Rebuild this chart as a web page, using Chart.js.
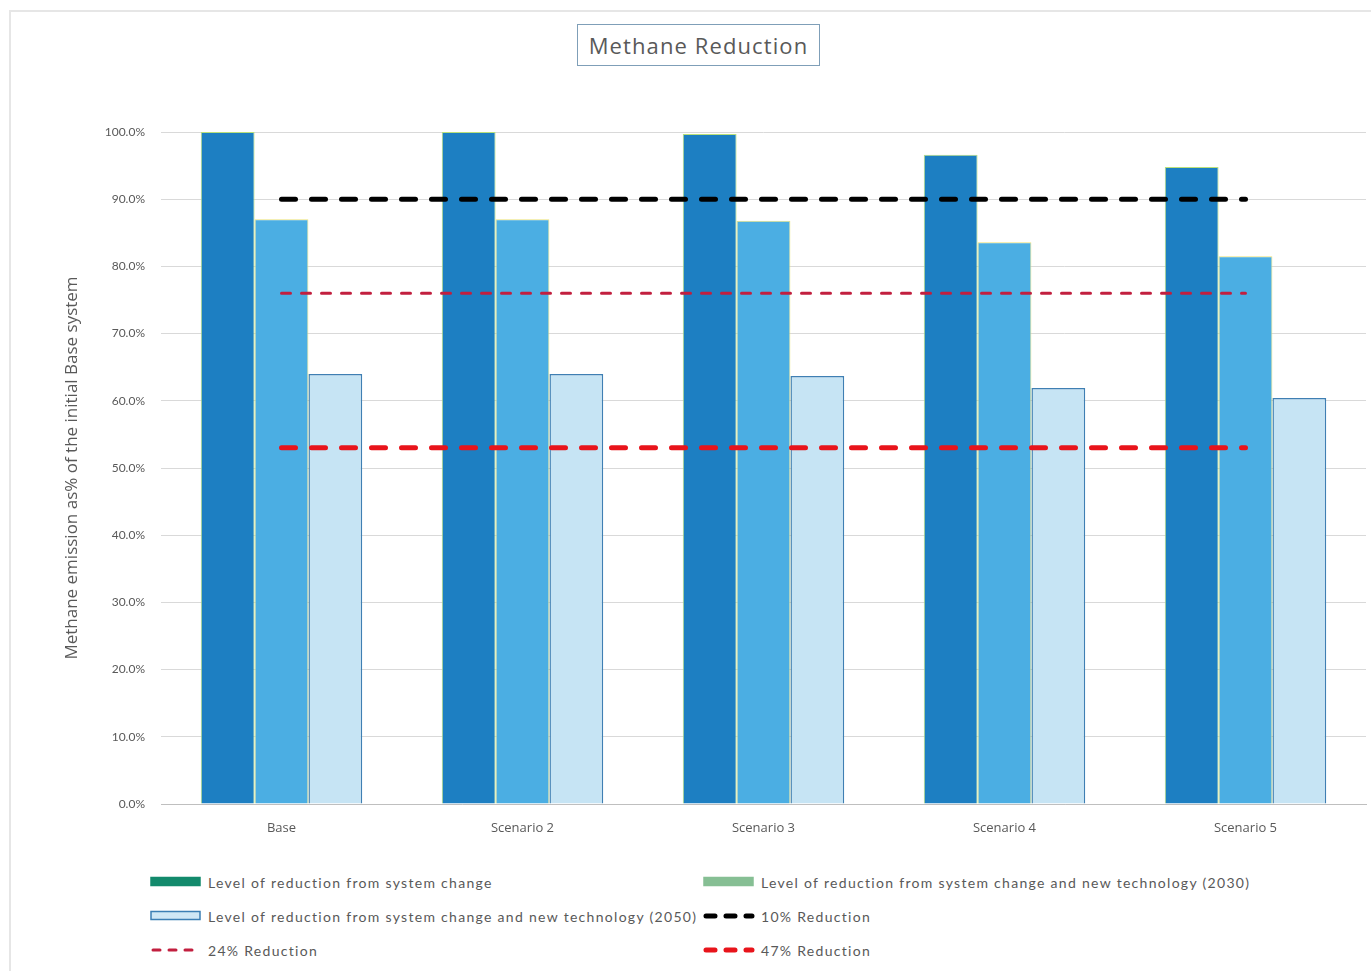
<!DOCTYPE html>
<html>
<head>
<meta charset="utf-8">
<script src="https://cdn.jsdelivr.net/npm/chart.js@4"></script>
<style>
body{margin:0;background:#fff;font-family:Lato,"Open Sans",sans-serif}
#frame{position:absolute;left:9px;top:10px;width:1380px;height:1000px;border:2px solid #e6e6e6;box-sizing:border-box}
#wrap{position:absolute;left:0;top:0;width:1371px;height:860px}
#title{position:absolute;left:577px;top:24px;width:241px;height:40px;border:1px solid #7f9fb8;color:#595959;font-family:"Open Sans";font-size:22px;letter-spacing:1.1px;line-height:40px;text-align:center}
#legend{position:absolute;left:150px;top:865px;display:grid;grid-template-columns:553px auto;grid-auto-rows:34px;color:#595959;font-size:14px;letter-spacing:1.3px}
.item{display:flex;align-items:center;white-space:nowrap}
.item svg{margin-right:6px}
</style>
</head>
<body>
<div id="frame"></div>
<div id="title">Methane Reduction</div>
<div id="wrap"><canvas id="chart"></canvas></div>
<div id="legend"></div>
<script>
// data
const categories=["Base","Scenario 2","Scenario 3","Scenario 4","Scenario 5"]
const systemChange=[100,100,99.7,96.6,94.8]
const tech2030=[87,87,86.8,83.6,81.5]
const tech2050=[64,64,63.7,61.9,60.4]
const line10=[90,90,90,90,90]
const line24=[76,76,76,76,76]
const line47=[53,53,53,53,53]
const yTicks=[0,10,20,30,40,50,60,70,80,90,100]

const grey="#595959"

const ctx=document.getElementById("chart")

const chart=new Chart(ctx,{
type:"bar",
data:{
labels:categories,
datasets:[
{label:"Level of reduction from system change",data:systemChange,backgroundColor:"#1d7fc2",borderColor:"#b9e07a",borderWidth:1,order:2,legendFill:"#138a6c"},
{label:"Level of reduction from system change and new technology (2030)",data:tech2030,backgroundColor:"#4baee3",borderColor:"#ece37a",borderWidth:1,order:2,legendFill:"#86bf94"},
{label:"Level of reduction from system change and new technology (2050)",data:tech2050,backgroundColor:"#c6e4f4",borderColor:"#3f7fb3",borderWidth:1.5,order:2,legendFill:"#cfe8f5",legendBorder:"#3b7fb4"},
{type:"line",label:"10% Reduction",data:line10,borderColor:"#000000",borderWidth:5,borderDash:[14,16],borderCapStyle:"round",pointRadius:0,order:0},
{type:"line",label:"24% Reduction",data:line24,borderColor:"#c21f3f",borderWidth:3,borderDash:[9,11],borderCapStyle:"round",pointRadius:0,order:0},
{type:"line",label:"47% Reduction",data:line47,borderColor:"#e8141b",borderWidth:5,borderDash:[14,16],borderCapStyle:"round",pointRadius:0,order:0}
]
},
options:{
responsive:true,
maintainAspectRatio:false,
animation:false,
categoryPercentage:0.67,
barPercentage:1,
layout:{padding:{top:132,right:5,left:0,bottom:0}},
plugins:{legend:{display:false},tooltip:{enabled:false}},
scales:{
x:{
grid:{display:false,drawTicks:false},
border:{color:"#bfbfbf"},
ticks:{color:grey,font:{size:13,family:"Open Sans"},padding:16},
afterFit:s=>{s.height=56}
},
y:{
min:0,max:100,
afterBuildTicks:s=>{s.ticks=yTicks.map(v=>({value:v}))},
grid:{color:"#d9d9d9",drawTicks:false},
border:{display:false},
ticks:{color:grey,font:{size:12,family:"Lato"},padding:16,callback:v=>v.toFixed(1)+"%"},
title:{display:true,text:"Methane emission as% of the initial Base system",color:grey,font:{size:17,family:"Open Sans"},padding:{top:62,bottom:0}},
afterFit:s=>{s.width=161}
}
}
}
})

// legend
function swatch(ds){
if(ds.type==="line"){
return '<svg width="52" height="12"><line x1="3" y1="6" x2="49" y2="6" stroke="'+ds.borderColor+'" stroke-width="'+ds.borderWidth+'" stroke-linecap="round" stroke-dasharray="'+(ds.borderWidth>4?"9,11":"7,9")+'"/></svg>'
}
let b=ds.legendBorder||ds.legendFill
return '<svg width="52" height="12"><rect x="1" y="1.5" width="49" height="8" fill="'+ds.legendFill+'" stroke="'+b+'" stroke-width="1.5"/></svg>'
}

let html=""
chart.data.datasets.forEach(ds=>{
html+='<div class="item">'+swatch(ds)+'<span>'+ds.label+'</span></div>'
})
document.getElementById("legend").innerHTML=html
</script>
</body>
</html>
